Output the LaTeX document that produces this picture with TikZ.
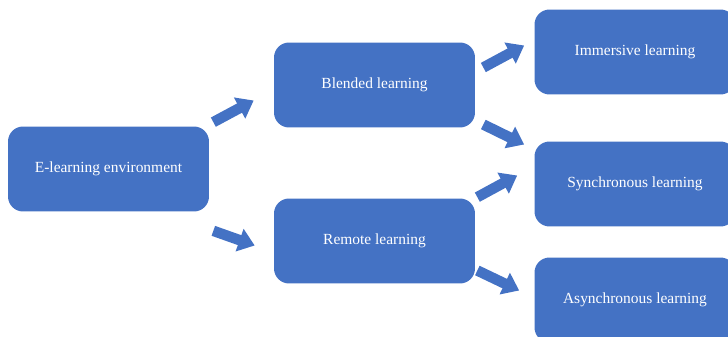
\documentclass[tikz,border=0pt]{standalone}
\usepackage{fontspec}
\setmainfont{Liberation Serif}
\usetikzlibrary{arrows.meta}
\definecolor{boxblue}{HTML}{4472C4}
\begin{document}
\begin{tikzpicture}[x=0.02cm,y=-0.02cm,
    stage/.style={fill=boxblue,draw=none,rounded corners=0.3cm,minimum width=4.02cm,minimum height=1.7cm,text=white,font=\fontsize{8.8}{11}\selectfont},
    blockarrow/.style={draw=boxblue,line width=0.21cm,-{Triangle[length=0.32cm,width=0.46cm]}}]
    \useasboundingbox (0,0) rectangle (728,337);
    \clip (0,0) rectangle (728,337);
    \node[stage] (env) at (108.5,169) {E-learning environment};
    \node[stage] (blend) at (374.5,85) {Blended learning};
    \node[stage] (remote) at (374.5,241) {Remote learning};
    \node[stage] (imm) at (635,52) {Immersive learning};
    \node[stage] (sync) at (635,184) {Synchronous learning};
    \node[stage] (async) at (635,300) {Asynchronous learning};
    \draw[blockarrow] ([shift={(4,-4)}]env.north east) -- ([shift={(-20,15.5)}]blend.west);
    \draw[blockarrow] ([shift={(4,19)}]env.south east) -- ([shift={(-19,4.5)}]remote.west);
    \draw[blockarrow] ([shift={(8,-17.5)}]blend.east) -- ([shift={(-10,-6.5)}]imm.west);
    \draw[blockarrow] ([shift={(8,39.5)}]blend.east) -- ([shift={(-10,-39.5)}]sync.west);
    \draw[blockarrow] ([shift={(2,-1)}]remote.north east) -- ([shift={(-17,-8.5)}]sync.west);
    \draw[blockarrow] ([shift={(2,29.5)}]remote.east) -- ([shift={(-15,-9.5)}]async.west);
\end{tikzpicture}
\end{document}
